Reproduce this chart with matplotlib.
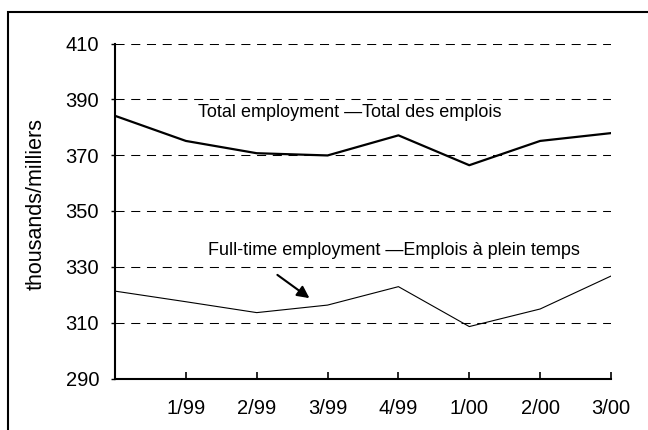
import matplotlib.pyplot as plt
from matplotlib.patches import Rectangle

plt.rcParams['font.family'] = ['Liberation Sans', 'DejaVu Sans']

# quarterly values, first point (4/98) has no label on the axis
quarters = ['', '1/99', '2/99', '3/99', '4/99', '1/00', '2/00', '3/00']
total = [384.1, 375.1, 370.7, 369.9, 377.1, 366.4, 375.1, 377.9]
full_time = [321.3, 317.5, 313.6, 316.3, 322.9, 308.6, 314.9, 326.7]
y_ticks = [290, 310, 330, 350, 370, 390, 410]

fig = plt.figure(figsize=(6.48, 4.30), dpi=100)
ax = fig.add_axes([115/648, 1 - 378.5/430, 496/648, 335/430])

x = list(range(len(quarters)))
ax.plot(x, total, color='black', lw=1.6, zorder=3)
ax.plot(x, full_time, color='black', lw=0.8, zorder=3)

ax.set_xlim(0, len(quarters) - 1)
ax.set_ylim(y_ticks[0], y_ticks[-1])
ax.set_yticks(y_ticks)
for yv in y_ticks[1:]:
    ax.axhline(yv, color='black', lw=0.75, dashes=(8.7, 6.4), zorder=1)

ax.set_xticks(x[1:])
ax.set_xticklabels(quarters[1:])
ax.tick_params(axis='x', direction='in', length=5, width=1.2, pad=15, labelsize=14.5)
ax.tick_params(axis='y', direction='out', length=3, width=1, pad=8.5, labelsize=14.5)

for s in ['top', 'right']:
    ax.spines[s].set_visible(False)
for s in ['left', 'bottom']:
    ax.spines[s].set_linewidth(1.5)

ax.set_ylabel('thousands/milliers', fontsize=15.5, va='center')
ax.yaxis.set_label_coords((36 - 115) / 496, 0.522)

ax.text(3.32, 385.4, 'Total employment \u2014Total des emplois',
        ha='center', va='center', fontsize=13)
ax.text(3.94, 335.8, 'Full-time employment \u2014Emplois \u00e0 plein temps',
        ha='center', va='center', fontsize=13)
ax.annotate('', xy=(2.776, 318.2), xytext=(2.26, 327.7),
            arrowprops=dict(arrowstyle='-|>', color='black', lw=1.5,
                            mutation_scale=18))

# outer frame, cut off at the right and bottom edges like the original
fig.add_artist(Rectangle((8/648, -0.1), 1.2, (1 - 12/430) + 0.1,
                         transform=fig.transFigure, fill=False,
                         edgecolor='black', lw=1.5))

fig.savefig('out.png', dpi=100)
